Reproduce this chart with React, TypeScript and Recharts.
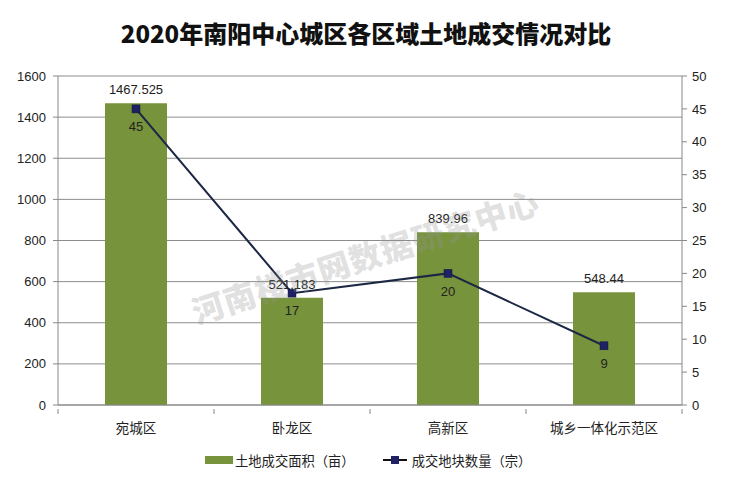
import {
  Bar,
  CartesianGrid,
  ComposedChart,
  LabelList,
  Legend,
  Line,
  XAxis,
  YAxis,
} from "recharts";

const districts = ["宛城区", "卧龙区", "高新区", "城乡一体化示范区"];
const areaValues = [1467.525, 521.183, 839.96, 548.44];
const countValues = [45, 17, 20, 9];
const leftTicks = [0, 200, 400, 600, 800, 1000, 1200, 1400, 1600];
const rightTicks = [0, 5, 10, 15, 20, 25, 30, 35, 40, 45, 50];

const BAR_COLOR = "#77933C";
const LINE_COLOR = "#1B2744";
const MARKER_COLOR = "#1F2163";
const FONT = "'Microsoft YaHei', 'Noto Sans CJK SC', 'Liberation Sans', sans-serif";

const data = districts.map((name, i) => ({
  name,
  area: areaValues[i],
  count: countValues[i],
}));

const WIDTH = 732;
const HEIGHT = 488;
const PLOT_LEFT = 58;
const PLOT_RIGHT = 682;
const HALF_BAND = (PLOT_RIGHT - PLOT_LEFT) / districts.length / 2;

function CategoryTick(props: any) {
  const { x, y, payload, index } = props;
  const last = index === districts.length - 1;
  return (
    <g>
      <line x1={x - HALF_BAND} x2={x - HALF_BAND} y1={y - 2} y2={y + 3} stroke="#888" />
      {last && (
        <line x1={x + HALF_BAND} x2={x + HALF_BAND} y1={y - 2} y2={y + 3} stroke="#888" />
      )}
      <text x={x} y={y + 22} textAnchor="middle" fontSize={13.5} fill="#222" fontFamily={FONT}>
        {payload.value}
      </text>
    </g>
  );
}

function Square(props: any) {
  const { cx, cy } = props;
  if (cx == null || cy == null) return null;
  return <rect x={cx - 4} y={cy - 4} width={8} height={8} fill={MARKER_COLOR} stroke="#151840" strokeWidth={0.5} />;
}

function LegendContent() {
  return (
    <div
      style={{
        display: "flex",
        justifyContent: "flex-start",
        alignItems: "center",
        paddingLeft: 205,
        fontSize: 13.3,
        color: "#222",
        fontFamily: FONT,
        height: 30,
      }}
    >
      <span style={{ display: "inline-block", width: 28, height: 8, background: BAR_COLOR, marginRight: 2 }} />
      <span>土地成交面积（亩）</span>
      <svg width={24} height={10} style={{ marginLeft: 28, marginRight: 5 }}>
        <line x1={0} x2={24} y1={5} y2={5} stroke="#111" strokeWidth={2} />
        <rect x={8} y={1} width={8} height={8} fill={MARKER_COLOR} />
      </svg>
      <span>成交地块数量（宗）</span>
    </div>
  );
}

export default function App() {
  return (
    <div
      style={{
        position: "absolute",
        left: 0,
        top: 0,
        width: WIDTH,
        height: HEIGHT,
        background: "#fff",
        fontFamily: FONT,
      }}
    >
      <div
        style={{
          position: "absolute",
          top: 17,
          left: 0,
          width: WIDTH,
          textAlign: "center",
          fontSize: 24,
          fontWeight: 900,
          color: "#111",
          lineHeight: "32px",
        }}
      >
        2020年南阳中心城区各区域土地成交情况对比
      </div>
      <ComposedChart
        width={WIDTH}
        height={HEIGHT}
        data={data}
        margin={{ top: 76, right: 0, bottom: 13, left: 0 }}
      >
        <CartesianGrid horizontal vertical={false} stroke="#8c8c8c" yAxisId="left" />
        <XAxis
          dataKey="name"
          axisLine={{ stroke: "#888" }}
          tickLine={false}
          tick={<CategoryTick />}
          tickMargin={0}
          height={40}
          interval={0}
        />
        <YAxis
          yAxisId="left"
          domain={[0, 1600]}
          ticks={leftTicks}
          width={58}
          axisLine={{ stroke: "#888" }}
          tickLine={{ stroke: "#888" }}
          tickSize={5}
          tick={{ fontSize: 13, fill: "#222", fontFamily: "'Liberation Sans', sans-serif" }}
          tickMargin={7}
        />
        <YAxis
          yAxisId="right"
          orientation="right"
          domain={[0, 50]}
          ticks={rightTicks}
          width={50}
          axisLine={{ stroke: "#888" }}
          tickLine={{ stroke: "#888" }}
          tickSize={5}
          tick={{ fontSize: 13, fill: "#222", fontFamily: "'Liberation Sans', sans-serif" }}
          tickMargin={5}
        />
        <Legend verticalAlign="bottom" height={30} content={<LegendContent />} />
        <Bar yAxisId="left" dataKey="area" fill={BAR_COLOR} barSize={62} isAnimationActive={false}>
          <LabelList
            dataKey="area"
            position="top"
            offset={9}
            fontSize={13}
            fill="#222"
            fontFamily="'Liberation Sans', sans-serif"
          />
        </Bar>
        <Line
          yAxisId="right"
          dataKey="count"
          stroke={LINE_COLOR}
          strokeWidth={2}
          dot={<Square />}
          activeDot={false}
          isAnimationActive={false}
        >
          <LabelList
            dataKey="count"
            position="bottom"
            offset={13}
            fontSize={13}
            fill="#222"
            fontFamily="'Liberation Sans', sans-serif"
          />
        </Line>
      </ComposedChart>
      <div
        style={{
          position: "absolute",
          left: 365 - 200,
          top: 255 - 22,
          width: 400,
          textAlign: "center",
          fontSize: 32,
          fontWeight: 900,
          color: "rgba(150,150,150,0.3)",
          transform: "rotate(-18deg)",
          pointerEvents: "none",
          lineHeight: "44px",
          letterSpacing: 1,
        }}
      >
        河南楼市网数据研究中心
      </div>
    </div>
  );
}
